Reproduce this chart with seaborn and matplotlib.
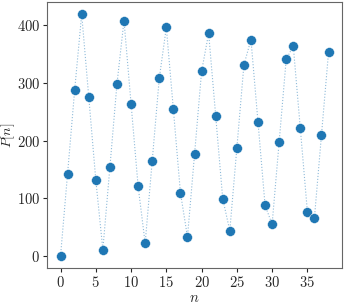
import matplotlib
matplotlib.use("Agg")
import pandas as pd
import seaborn as sns
from matplotlib import pyplot as plt

n_values = list(range(39))
p_values = [0, 143, 287, 419, 276, 132, 11, 154, 298, 408,
            264, 121, 22, 165, 308, 396, 254, 110, 33, 176,
            320, 386, 243, 99, 44, 187, 331, 375, 232, 88,
            55, 198, 341, 364, 221, 77, 66, 210, 353]

sns.set_style("ticks")
plt.rcParams["font.family"] = "serif"
plt.rcParams["font.serif"] = ["cmr10"]
plt.rcParams["mathtext.fontset"] = "cm"
plt.rcParams["axes.formatter.use_mathtext"] = True

data = pd.DataFrame({"n": n_values, "P": p_values})

fig = plt.figure(figsize=(3.44, 3.04), dpi=100)
ax = fig.add_axes([0.137, 0.118, 0.857, 0.875])

ax.plot(data["n"], data["P"], linestyle=":", linewidth=0.8, color="C0", alpha=0.5)
sns.scatterplot(data, x="n", y="P", ax=ax, s=50, color="C0", edgecolor="white", linewidth=0.3, zorder=3)

ax.set_xticks([0, 5, 10, 15, 20, 25, 30, 35])
ax.set_yticks([0, 100, 200, 300, 400])
ax.tick_params(labelsize=10.5, length=3, pad=2)
ax.set_xlabel("$n$", fontsize=10.5, labelpad=1)
ax.set_ylabel("$P[n]$", fontsize=10, labelpad=0)
for side in ["top", "right", "left", "bottom"]:
    ax.spines[side].set_color("0.4")

plt.savefig("out.png", dpi=100)
